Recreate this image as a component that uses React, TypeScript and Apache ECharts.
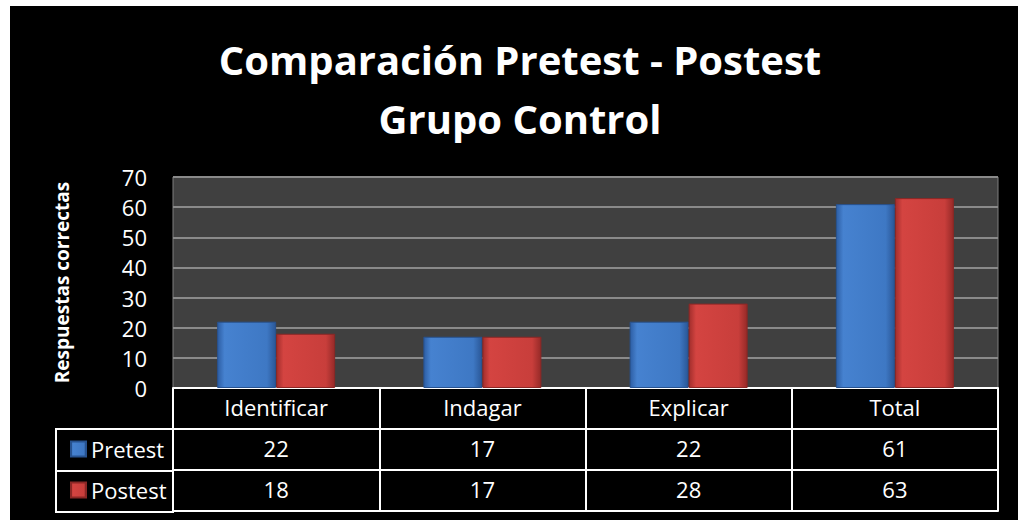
import React, { useEffect, useRef } from "react";
import * as echarts from "echarts";

const categories = ["Identificar", "Indagar", "Explicar", "Total"];
const pretest = [22, 17, 22, 61];
const postest = [18, 17, 28, 63];
const seriesNames = ["Pretest", "Postest"];
const titleLines = ["Comparación Pretest - Postest", "Grupo Control"];
const yAxisName = "Respuestas correctas";
const yMin = 0;
const yMax = 70;
const yInterval = 10;

const FONT = "'Open Sans', Lato, sans-serif";

export default function App() {
  const ref = useRef<HTMLDivElement>(null);
  useEffect(() => {
    if (!ref.current) return;
    const chart = echarts.init(ref.current, undefined, { renderer: "svg" });
    const blue = new echarts.graphic.LinearGradient(0, 0, 1, 0, [
      { offset: 0, color: "#2d5ea4" },
      { offset: 0.12, color: "#4682d0" },
      { offset: 0.85, color: "#3e78c4" },
      { offset: 1, color: "#2a5797" },
    ]);
    const red = new echarts.graphic.LinearGradient(0, 0, 1, 0, [
      { offset: 0, color: "#a22e2c" },
      { offset: 0.12, color: "#d44441" },
      { offset: 0.85, color: "#c83e3b" },
      { offset: 1, color: "#962a28" },
    ]);
    const gridLeft = 163;
    const gridRight = 20;
    const gridBottom = 132;
    const rowH = 41;
    const tableAxisCommon = {
      type: "category" as const,
      position: "bottom" as const,
      axisLine: { show: true, lineStyle: { color: "#ffffff", width: 2 } },
      axisTick: { show: true, length: rowH, interval: 0, lineStyle: { color: "#ffffff", width: 2 } },
      axisLabel: { show: true, color: "#ffffff", fontSize: 22, fontFamily: FONT, margin: 8, interval: 0 },
      splitLine: { show: false },
    };
    chart.setOption({
      animation: false,
      backgroundColor: "#000000",
      textStyle: { fontFamily: FONT },
      graphic: [
        {
          type: "text",
          x: 510,
          y: 24,
          style: {
            x: 0,
            y: 0,
            text: titleLines.join("\n"),
            fill: "#ffffff",
            font: `bold 40px ${FONT}`,
            lineHeight: 59,
            textAlign: "center",
            textVerticalAlign: "top",
          },
        },
        {
          type: "rect",
          shape: { x: 46, y: 423, width: 117, height: 83 },
          style: { fill: "none", stroke: "#ffffff", lineWidth: 2 },
        },
        {
          type: "line",
          shape: { x1: 46, y1: 465, x2: 163, y2: 465 },
          style: { stroke: "#ffffff", lineWidth: 2 },
        },
      ],
      legend: {
        orient: "vertical",
        left: 55,
        top: 427,
        itemWidth: 15,
        itemHeight: 15,
        itemGap: 19,
        icon: "rect",
        textStyle: { color: "#ffffff", fontSize: 22, fontFamily: FONT },
        data: seriesNames,
      },
      grid: {
        left: gridLeft,
        right: gridRight,
        top: 171,
        bottom: gridBottom,
        show: true,
        backgroundColor: "#404040",
        borderColor: "#7f7f7f",
        borderWidth: 1,
      },
      xAxis: [
        { ...tableAxisCommon, data: categories, offset: 0 },
        { ...tableAxisCommon, data: pretest.map(String), offset: rowH },
        { ...tableAxisCommon, data: postest.map(String), offset: rowH * 2 },
        {
          ...tableAxisCommon,
          data: categories,
          offset: rowH * 3,
          axisTick: { show: false },
          axisLabel: { show: false },
        },
      ],
      yAxis: {
        type: "value",
        min: yMin,
        max: yMax,
        interval: yInterval,
        name: yAxisName,
        nameLocation: "middle",
        nameGap: 102,
        nameTextStyle: { color: "#ffffff", fontSize: 19, fontWeight: "bold", fontFamily: FONT },
        axisLine: { show: false },
        axisTick: { show: false },
        axisLabel: { color: "#ffffff", fontSize: 22, fontFamily: FONT, margin: 26 },
        splitLine: { show: true, lineStyle: { color: "#8a8a8a", width: 2 } },
      },
      series: [
        {
          name: seriesNames[0],
          type: "bar",
          xAxisIndex: 0,
          data: pretest,
          barWidth: 59,
          barGap: "0%",
          itemStyle: { color: blue, borderColor: "#27528f", borderWidth: 1 },
        },
        {
          name: seriesNames[1],
          type: "bar",
          xAxisIndex: 0,
          data: postest,
          barWidth: 59,
          barGap: "0%",
          itemStyle: { color: red, borderColor: "#8a2725", borderWidth: 1 },
        },
      ],
    });
    return () => chart.dispose();
  }, []);
  return (
    <div style={{ position: "absolute", left: 0, top: 0, width: 1018, height: 520, background: "#ffffff" }}>
      <div ref={ref} style={{ position: "absolute", left: 10, top: 6, width: 1008, height: 514 }} />
    </div>
  );
}
